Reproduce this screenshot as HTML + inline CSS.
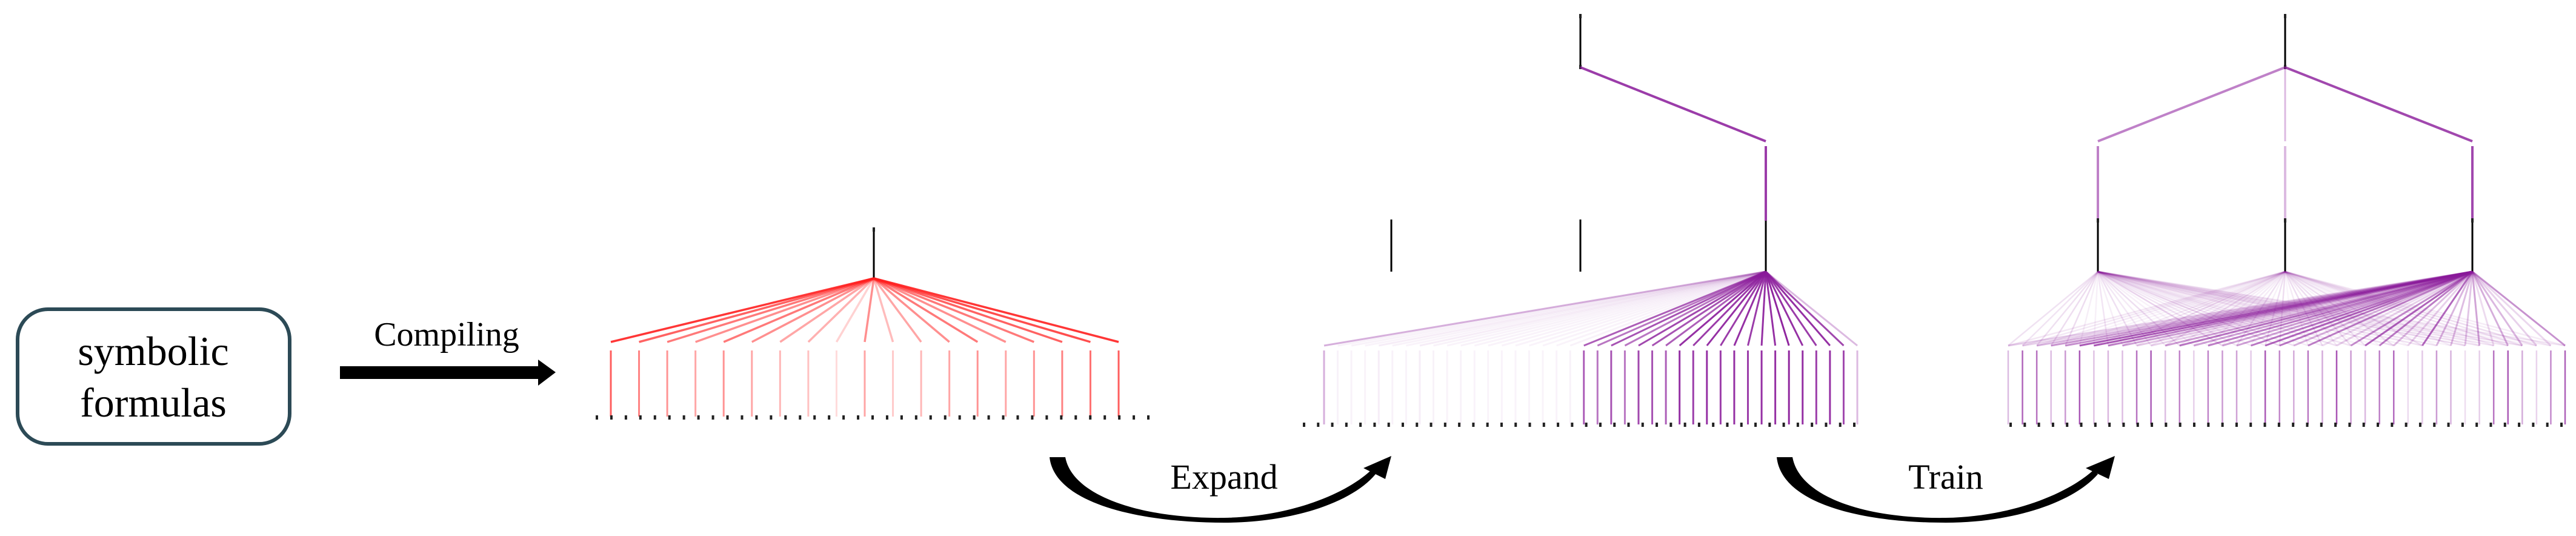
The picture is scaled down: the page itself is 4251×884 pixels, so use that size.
<!DOCTYPE html>
<html><head><meta charset="utf-8"><style>
html,body{margin:0;padding:0;background:#fff;width:4251px;height:884px;overflow:hidden}
svg{position:absolute;left:0;top:0}
.t{position:absolute;font-family:"Liberation Serif","DejaVu Serif",Times,serif;color:#000;white-space:nowrap;line-height:1;transform:translateX(-50%)}
</style></head><body>
<svg id="s" width="4251" height="884" viewBox="0 0 4251 884">
<rect x="29" y="510" width="449" height="222" rx="50" fill="#fff" stroke="#2c4a56" stroke-width="6"/>
<rect x="561" y="604" width="330" height="21" fill="#000"/>
<polygon points="888,593 917,614 888,636" fill="#000"/>
<path d="M1732,754 C1740,830 1880,862 2020,862 C2130,862 2230,830 2270,782 L2262,776 C2220,815 2130,852 2020,854 C1890,856 1770,820 1758,754 Z" fill="#000"/>
<polygon points="2250,772 2296,752 2286,790" fill="#000"/>
<path d="M2932,754 C2940,830 3070,862 3211,862 C3320,862 3420,830 3462,782 L3454,776 C3410,815 3320,852 3211,854 C3080,856 2970,820 2958,754 Z" fill="#000"/>
<polygon points="3442,772 3490,752 3480,790" fill="#000"/>
<g id="g"></g>
</svg>
<div class="t" style="left:253px;top:545px;font-size:68px">symbolic</div>
<div class="t" style="left:253px;top:630px;font-size:68px">formulas</div>
<div class="t" style="left:737px;top:524px;font-size:56px">Compiling</div>
<div class="t" style="left:2020px;top:758px;font-size:58px">Expand</div>
<div class="t" style="left:3211px;top:758px;font-size:58px">Train</div>
<script>
var g=document.getElementById('g'),h='';
function L(x1,y1,x2,y2,c,o,w){h+='<line x1="'+x1+'" y1="'+y1+'" x2="'+x2+'" y2="'+y2+'" stroke="'+c+'" stroke-opacity="'+o+'" stroke-width="'+(w||3)+'"/>';}
function D(x,y){h+='<rect x="'+(x-2)+'" y="'+(y-4)+'" width="4" height="7" fill="#222"/>';}
var R='#ff2020',P='#8a1a9a';
L(1442,379,1442,459,'#000',1,3);D(1442,379);
for(var i=0;i<19;i++){var x=1008+i*(1846-1008)/18;var o=[.9,.7,.6,.5,.6,.5,.4,.35,.2,.5,.3,.4,.5,.6,.5,.6,.7,.8,.9][i];
L(1442,459,x,564,R,o,3.5);L(x,578,x,687,R,o*0.8,3);}
for(var i=0;i<39;i++)D(985+i*(1895-985)/38,689);
L(2608,27,2608,111,'#000',1,3);D(2608,27);D(2608,111);
L(2608,111,2914,233,P,.85,4);L(2914,241,2914,364,P,.85,4);L(2914,364,2914,448,'#000',1,3);
L(2296,362,2296,448,'#000',1,3);L(2608,362,2608,448,'#000',1,3);
var o2=[.35,.06,.06,.05,.08,.06,.05,.08,.06,.05,.06,.05,.05,.05,.05,.05,.05,.05,.06,.7,.6,.75,.6,.8,.75,.7,.9,.85,.9,.85,.9,.85,.9,.9,.95,.9,.85,.9,.8,.3];
for(var i=0;i<40;i++){var x=2185+i*(3065-2185)/39;L(2914,448,x,570,P,o2[i],3);L(x,578,x,700,P,o2[i],3);D(2152+i*(3060-2152)/39,701);}
L(3771,27,3771,111,'#000',1,3);D(3771,27);D(3771,111);
L(3771,111,3462,233,P,.55,4);L(3771,111,3771,233,P,.3,3);L(3771,111,4080,233,P,.8,4);
[3462,3771,4080].forEach(function(x,k){L(x,241,x,364,P,[.55,.3,.8][k],4);L(x,364,x,448,'#000',1,3);D(x,364);});
var s=7;function rnd(){s=(s*9301+49297)%233280;return s/233280;}
for(var i=0;i<40;i++){var x=3314+i*(4233-3314)/39;
L(3462,448,x,570,P,.05+rnd()*.15,2.5);L(3771,448,x,570,P,.04+rnd()*.12,2.5);L(4080,448,x,570,P,.15+rnd()*.6,3);
L(x,578,x,700,P,.15+rnd()*.6,2.5);D(3318+i*(4227-3318)/39,701);}
g.innerHTML=h;
</script>
</body></html>
